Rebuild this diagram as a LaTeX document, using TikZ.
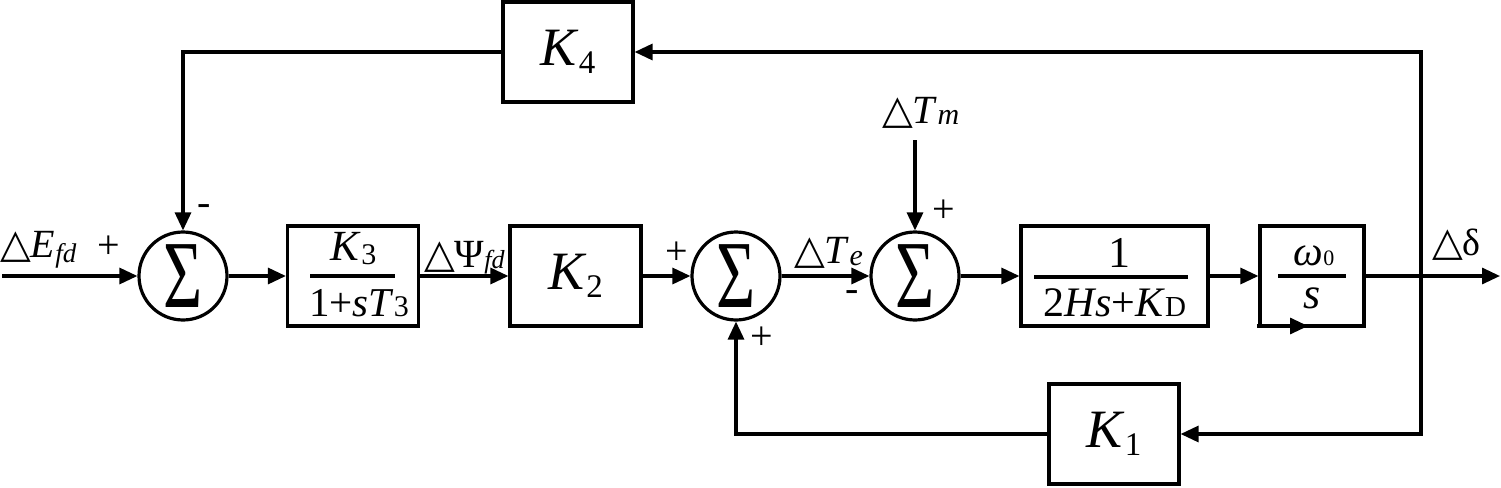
\documentclass[tikz,border=0pt]{standalone}
\usepackage{fontspec}
\setmainfont{Liberation Serif}
\newfontfamily\dvfont{DejaVu Sans}
\usetikzlibrary{arrows.meta}
\newcommand{\fsz}[1]{\fontsize{#1}{#1}\selectfont}
\newcommand{\tri}{{\dvfont\fsz{40}△}}
\newcommand{\lsub}[3]{\raisebox{-#1pt}{\fsz{#2}#3}}
\begin{document}
\begin{tikzpicture}[x=1pt,y=-1pt,
  blk/.style={draw, line width=3.2pt, inner sep=0pt, minimum height=100pt},
  sumnode/.style={draw, circle, line width=3.2pt, inner sep=0pt, minimum size=88pt},
  arr/.style={line width=3.2pt, -{Triangle[length=18pt,width=16pt]}},
  lbl/.style={inner sep=0pt, anchor=base west},
  sgn/.style={inner sep=0pt, font=\fsz{40}},
  frule/.style={line width=4.5pt}]
\useasboundingbox (0,0) rectangle (1501,487);
% blocks
\node[blk, minimum width=130pt] (k4) at (568,52) {\fsz{54}\textit{K}\lsub{8}{33}{4}};
\node[blk, minimum width=131pt] (k3) at (353,276) {};
\node[blk, minimum width=131pt] (k2) at (575.5,276) {\fsz{54}\textit{K}\lsub{8}{33}{2}};
\node[blk, minimum width=187pt] (gm) at (1114.5,276) {};
\node[blk, minimum width=104pt] (om) at (1312,276) {};
\node[blk, minimum width=130pt] (k1) at (1114,434) {\fsz{54}\textit{K}\lsub{8}{33}{1}};
% sums
\node[sumnode] (s1) at (183,276) {\scalebox{0.70}[1]{\fsz{96}Σ}};
\node[sumnode] (s2) at (736,276) {\scalebox{0.70}[1]{\fsz{96}Σ}};
\node[sumnode] (s3) at (915,276) {\scalebox{0.70}[1]{\fsz{96}Σ}};
% fraction contents
\node[inner sep=0pt, anchor=base] (k3n) at (353.5,260) {\fsz{43}\textit{K}\lsub{4}{30}{3}};
\draw[frule] (310,276) -- (395,276);
\node[inner sep=0pt, anchor=base] (k3d) at (359,316) {\fsz{41}1+\textit{sT}{\fsz{30}3}};
\node[inner sep=0pt, anchor=base] (gmn) at (1119,267) {\fsz{44}1};
\draw[frule] (1034,277) -- (1188,277);
\node[inner sep=0pt, anchor=base] (gmd) at (1115,316) {\fsz{42}2\textit{Hs}+\textit{K}{\fsz{29}D}};
\node[inner sep=0pt, anchor=base] (omn) at (1314,265) {\fsz{42}\textit{ω}{\fsz{22}0}};
\draw[frule] (1278,276) -- (1346,276);
\node[inner sep=0pt, anchor=base] (omd) at (1312,308) {\fsz{44}\textit{s}};
% coordinates
\coordinate (in) at (2,276);
\coordinate (out) at (1500,276);
\coordinate (br) at (1421,276);
\coordinate (tm) at (915,140);
\coordinate (st1) at (1257,326);
\coordinate (st2) at (1308,326);
% connectors
\draw[arr] (in) -- (s1.west);
\draw[arr] (s1.east) -- (k3.west);
\draw[arr] (k3.east) -- (k2.west);
\draw[arr] (k2.east) -- (s2.west);
\draw[arr] (s2.east) -- (s3.west);
\draw[arr] (tm) -- (s3.north);
\draw[arr] (s3.east) -- (gm.west);
\draw[arr] (gm.east) -- (om.west);
\draw[arr] (om.east) -- (out);
\draw[arr] (br) |- (k4.east);
\draw[arr] (br) |- (k1.east);
\draw[arr] (k4.west) -| (s1.north);
\draw[arr] (k1.west) -| (s2.south);
\draw[arr] (st1) -- (st2);
% labels
\node[lbl] (lE) at (0,257) {\tri\fsz{40}\textit{E}\lsub{5}{27}{\textit{fd}}};
\node[lbl] (lpsi) at (424,267) {\tri\fsz{40}Ψ\lsub{1}{26}{\textit{fd}}};
\node[lbl] (lTe) at (794,263) {\tri\fsz{40}\textit{T}\lsub{2}{30}{\textit{e}}};
\node[lbl] (lTm) at (882,123) {\tri\fsz{40}\textit{T}\lsub{1}{30}{\textit{m}}};
\node[lbl] (ld) at (1432,255) {\tri\fsz{38}δ};
\node[sgn] (p1) at (109,247) {+};
\node[sgn] (p2) at (677,253) {+};
\node[sgn] (p3) at (762,338) {+};
\node[sgn] (p4) at (944,211) {+};
\node[sgn] (m1) at (204,210) {-};
\node[sgn] (m2) at (852,296) {-};
\end{tikzpicture}
\end{document}
